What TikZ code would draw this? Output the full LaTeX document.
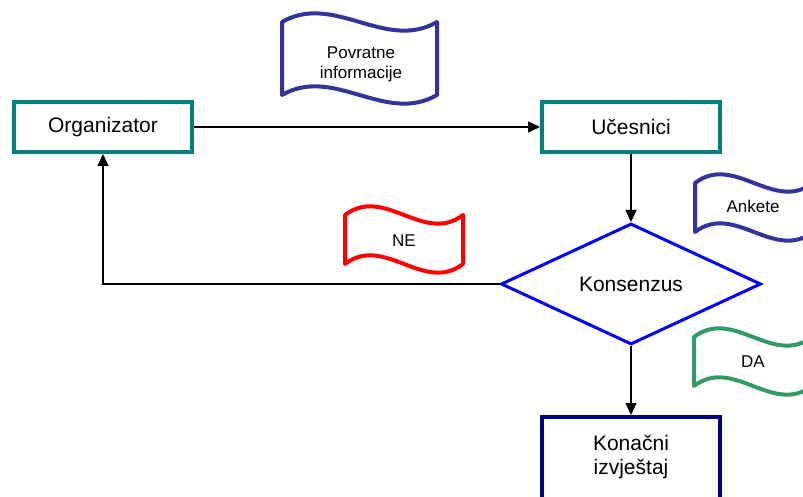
\documentclass[tikz,border=0pt]{standalone}
\usepackage{fontspec}
\setmainfont{Liberation Sans}
\usetikzlibrary{arrows.meta,shapes.geometric}

\definecolor{boxteal}{RGB}{0,128,128}
\definecolor{tapeblue}{RGB}{51,51,153}
\definecolor{reportnavy}{RGB}{0,0,128}
\definecolor{dagreen}{RGB}{51,153,102}

% wavy tag: colour, left x, right x, top y, bottom y
\newcommand{\tapeflag}[5]{%
  \pgfmathsetmacro\tapexa{#2+(#3-#2)/3}%
  \pgfmathsetmacro\tapexb{#2+2*(#3-#2)/3}%
  \draw[tapeline, draw=#1] (#2,#4) .. controls (\tapexa,#4-30) and (\tapexb,#4+30) .. (#3,#4)
    -- (#3,#5) .. controls (\tapexb,#5+30) and (\tapexa,#5-30) .. (#2,#5) -- cycle;
}

\begin{document}
\begin{tikzpicture}[x=1pt, y=-1pt,
  flowbox/.style={draw=boxteal, line width=4pt, fill=white, minimum width=178pt,
    minimum height=50pt, inner sep=0pt, align=center, font=\fontsize{21}{24}\selectfont},
  tapeline/.style={line width=4pt, line join=round, fill=white},
  tagtext/.style={align=center, inner sep=0pt, font=\fontsize{17}{20}\selectfont},
  flowarrow/.style={line width=1.3pt, -{Triangle[length=12pt, width=11pt]}}]
\useasboundingbox (0,0) rectangle (803,497);

% Boxes
\node[flowbox] (organizator) at (103,127) {Organizator};
\node[flowbox] (ucesnici) at (631,127) {Učesnici};
\node[draw=blue, line width=3pt, diamond, aspect=2.1, minimum width=260pt,
  minimum height=121pt, inner sep=0pt, font=\fontsize{21}{24}\selectfont] (konsenzus) at (631,284) {Konsenzus};
\node[flowbox, draw=reportnavy, minimum height=84pt] (izvjestaj) at (631,459) {};
\node[align=center, inner sep=0pt, font=\fontsize{21}{24}\selectfont] (izvjestajtext) at (631,457) {Konačni\\izvještaj};

% Tags
\tapeflag{tapeblue}{282}{437}{22}{95}
\node[tagtext] (povratne) at (361,64) {Povratne\\informacije};
\tapeflag{tapeblue}{695}{813}{183}{232}
\node[tagtext] (ankete) at (753,206) {Ankete};
\tapeflag{red}{345}{463}{215}{264}
\node[tagtext] (ne) at (404,241) {NE};
\tapeflag{dagreen}{694}{812}{337}{386}
\node[tagtext] (da) at (753,362) {DA};

% Connectors
\draw[flowarrow] (organizator) -- (ucesnici);
\draw[flowarrow] (ucesnici.south) -- (konsenzus.north);
\draw[flowarrow] (konsenzus) -- (izvjestaj);
\draw[flowarrow] (konsenzus.west) -| (organizator.south);
\end{tikzpicture}
\end{document}
